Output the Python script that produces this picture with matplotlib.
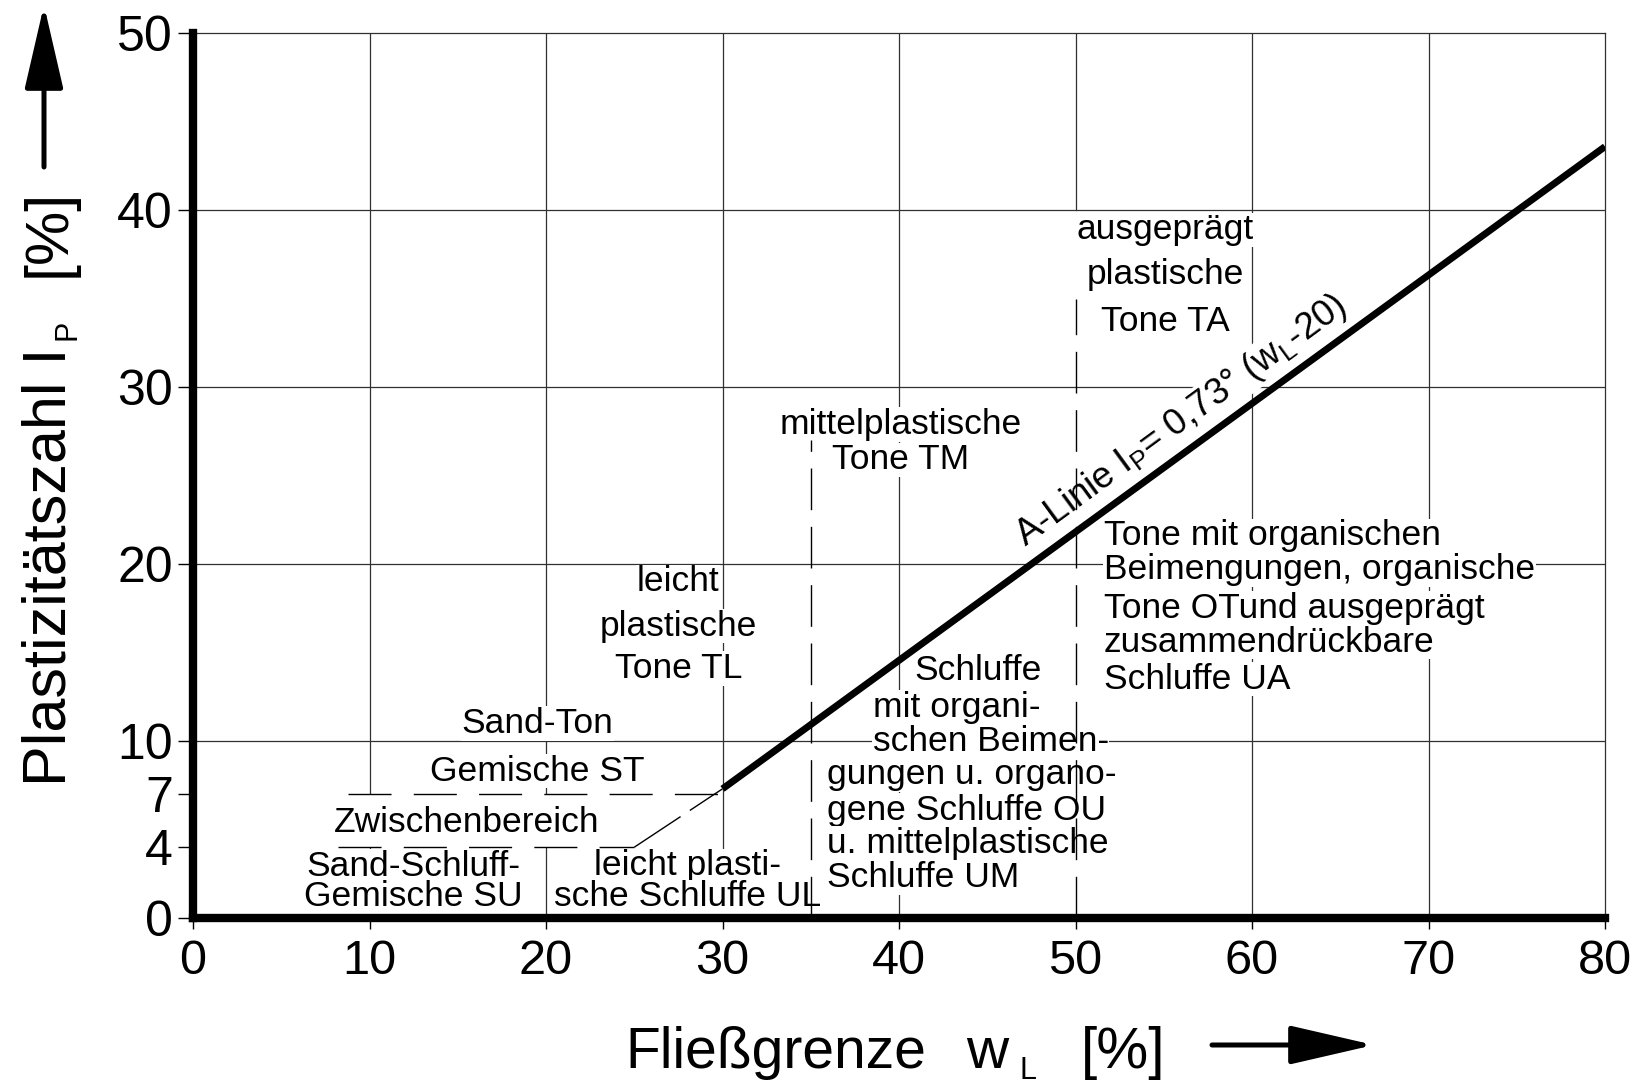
import matplotlib
matplotlib.use("Agg")
import matplotlib.pyplot as plt
from matplotlib.patches import Polygon

W, H = 1638, 1086

plt.rcParams["font.family"] = ["Liberation Sans", "DejaVu Sans"]
plt.rcParams["mathtext.fontset"] = "custom"
plt.rcParams["mathtext.rm"] = "Liberation Sans"
plt.rcParams["mathtext.it"] = "Liberation Sans"

# Achsen / Raster
x_ticks = [0, 10, 20, 30, 40, 50, 60, 70, 80]
y_ticks = [0, 4, 7, 10, 20, 30, 40, 50]
x_grid = [10, 20, 30, 40, 60, 70]
y_grid = [10, 20, 30, 40]

# A-Linie Ip = 0,73 (wL - 20)
a_line_wl = [30, 80]
a_line_ip = [7.3, 43.6]

# Grenzlinien
wl35_x = [35, 35]
wl35_y = [0, 27]
wl50_x = [50, 50]
wl50_y = [0, 35]
wl50_top_y = [40, 50]
zw_top_x = [8.8, 30]
zw_top_y = [7, 7]
zw_bot_x = [8.2, 25]
zw_bot_y = [4, 4]
diag_x = [25, 30]
diag_y = [4, 7.3]
zw_area_x = [8.2, 25, 30, 8.2]
zw_area_y = [4, 4, 7, 7]

# Bereichsbeschriftungen: Text, wL, Ip, Ausrichtung
region_labels = [
    ("ausgeprägt", 55.1, 38.9, "center"),
    ("plastische", 55.1, 36.4, "center"),
    ("Tone TA", 55.1, 33.7, "center"),
    ("mittelplastische", 40.1, 27.9, "center"),
    ("Tone TM", 40.1, 25.9, "center"),
    ("leicht", 27.5, 19.0, "center"),
    ("plastische", 27.5, 16.5, "center"),
    ("Tone TL", 27.5, 14.1, "center"),
    ("Sand-Ton", 19.5, 11.0, "center"),
    ("Gemische ST", 19.5, 8.3, "center"),
    ("Zwischenbereich", 15.5, 5.4, "center"),
    ("Sand-Schluff-", 12.5, 2.9, "center"),
    ("Gemische SU", 12.5, 1.2, "center"),
    ("leicht plasti-", 28.0, 2.95, "center"),
    ("sche Schluffe UL", 28.0, 1.2, "center"),
    ("Schluffe", 40.85, 14.0, "left"),
    ("mit organi-", 38.5, 11.9, "left"),
    ("schen Beimen-", 38.5, 10.0, "left"),
    ("gungen u. organo-", 35.9, 8.1, "left"),
    ("gene Schluffe OU", 35.9, 6.1, "left"),
    ("u. mittelplastische", 35.9, 4.2, "left"),
    ("Schluffe UM", 35.9, 2.3, "left"),
    ("Tone mit organischen", 51.6, 21.6, "left"),
    ("Beimengungen, organische", 51.6, 19.7, "left"),
    ("Tone OTund ausgeprägt", 51.6, 17.5, "left"),
    ("zusammendrückbare", 51.6, 15.6, "left"),
    ("Schluffe UA", 51.6, 13.5, "left"),
]


def fpx(x, y):
    """Pixel (von oben links) -> Figure-Koordinaten."""
    return x / W, 1 - y / H


fig = plt.figure(figsize=(W / 100, H / 100), dpi=100)
ax = fig.add_axes([193 / W, 1 - 918 / H, (1605 - 193) / W, (918 - 33.4) / H])
ax.set_xlim(0, 80)
ax.set_ylim(0, 50)

grid_kw = dict(color="#303030", lw=0.9, zorder=1)
ax.vlines(x_grid, 0, 50, **grid_kw)
ax.hlines(y_grid, 0, 80, **grid_kw)
ax.plot(wl50_x, wl50_top_y, **grid_kw)

ax.add_patch(Polygon(list(zip(zw_area_x, zw_area_y)), closed=True,
                     facecolor="white", edgecolor="none", zorder=1.5))

dash_kw = dict(color="black", lw=1.0, zorder=3.5)
ax.plot(wl35_x, wl35_y, dashes=(30, 12), **dash_kw)
ax.plot(wl50_x, wl50_y, dashes=(30, 12), **dash_kw)
ax.plot(zw_top_x, zw_top_y, dashes=(31, 16), **dash_kw)
ax.plot(zw_bot_x, zw_bot_y, dashes=(31, 16), **dash_kw)
ax.plot(diag_x, diag_y, dashes=(40, 8), **dash_kw)

ax.plot(a_line_wl, a_line_ip, color="black", lw=5.0,
        solid_capstyle="butt", zorder=4)

box = dict(facecolor="white", edgecolor="none", pad=0.5)
for txt, x, y, ha in region_labels:
    ax.text(x, y, txt, ha=ha, va="center", fontsize=25.5, bbox=box, zorder=3)

ax.text(56.0, 28.1, r"A-Linie I$_\mathrm{P}$= 0,73° (w$_\mathrm{L}$-20)",
        rotation=36.2, rotation_mode="anchor", ha="center", va="center",
        fontsize=26.5, bbox=box, zorder=3)

for side in ("top", "right"):
    ax.spines[side].set_linewidth(0.9)
    ax.spines[side].set_color("#303030")
for side in ("left", "bottom"):
    ax.spines[side].set_linewidth(6)
    ax.spines[side].set_zorder(5)

ax.set_xticks(x_ticks)
ax.set_yticks(y_ticks)
ax.tick_params(axis="x", direction="out", length=8, width=1, pad=7, labelsize=35)
ax.tick_params(axis="y", direction="out", length=11, width=1, pad=3.5, labelsize=36)

# Achsenbeschriftungen
fig.text(*fpx(625, 1068), "Fließgrenze", fontsize=41, ha="left", va="baseline")
fig.text(*fpx(966, 1068), "w", fontsize=42, ha="left", va="baseline")
fig.text(*fpx(1019, 1079), "L", fontsize=22, ha="left", va="baseline")
fig.text(*fpx(1081, 1068), "[%]", fontsize=42, ha="left", va="baseline")

fig.text(*fpx(65, 786), "Plastizitätszahl I", fontsize=44, rotation=90,
         rotation_mode="anchor", ha="left", va="baseline")
fig.text(*fpx(75, 340), "P", fontsize=22, rotation=90,
         rotation_mode="anchor", ha="left", va="baseline")
fig.text(*fpx(65, 277), "[%]", fontsize=44, rotation=90,
         rotation_mode="anchor", ha="left", va="baseline")

arrow_kw = dict(arrowstyle="-|>,head_length=5.2,head_width=1.2",
                color="black", lw=3.6, shrinkA=0, shrinkB=0, mutation_scale=10)
ax.annotate("", xy=(44, H - 5), xytext=(44, H - 167), xycoords="figure pixels",
            textcoords="figure pixels", arrowprops=arrow_kw, annotation_clip=False)
ax.annotate("", xy=(1374, H - 1045), xytext=(1212, H - 1045),
            xycoords="figure pixels", textcoords="figure pixels",
            arrowprops=arrow_kw, annotation_clip=False)

fig.savefig("out.png", dpi=100)
